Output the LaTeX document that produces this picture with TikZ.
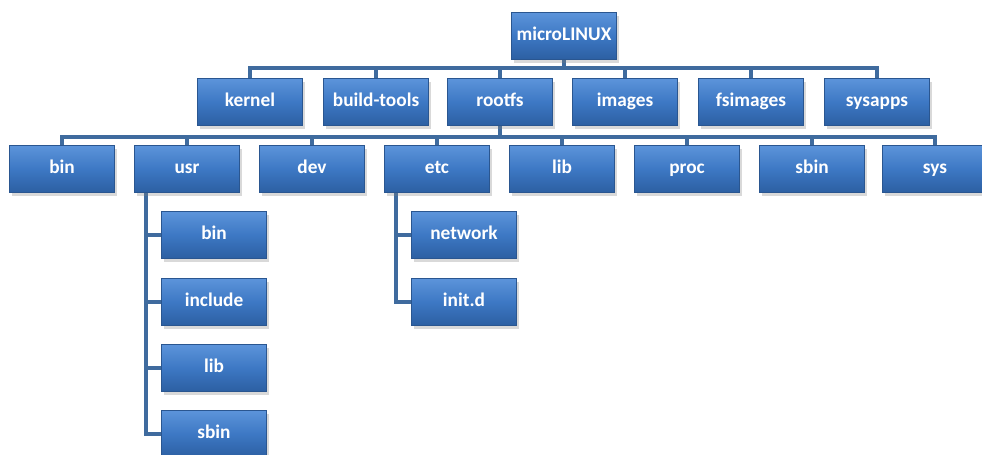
\documentclass[tikz,border=0pt]{standalone}
\usepackage{fontspec}
\setmainfont{Carlito}
\usetikzlibrary{positioning,shadows,backgrounds}
\definecolor{dirtop}{HTML}{5C94DA}
\definecolor{dirmid}{HTML}{3D78C4}
\definecolor{dirbot}{HTML}{2C5FA2}
\definecolor{diredge}{HTML}{2A5690}
\definecolor{dirline}{HTML}{3F6B9E}
\tikzset{
  dir/.style  ={rectangle, draw=diredge, thin, top color=dirtop, bottom color=dirbot,
                middle color=dirmid, text=white, align=center,
                font=\fontsize{11}{13}\selectfont\bfseries,
                text height=0.72em, text depth=0.2em,
                minimum width=2.1cm, minimum height=0.94cm, inner sep=2pt,
                drop shadow={opacity=0.3, shadow xshift=1.5pt, shadow yshift=-1.8pt}},
  conn/.style ={draw=dirline, line width=2.2pt}
}
\begin{document}
\begin{tikzpicture}[x=0.02cm,y=-0.02cm]
  \useasboundingbox (0,0) rectangle (982,455);
  % --- level 0
  \node[dir] (root)   at (564,36)  {microLINUX};
  % --- level 1
  \node[dir] (kernel) at (250,102) {kernel};
  \node[dir] (btools) at (376,102) {build-tools};
  \node[dir] (rootfs) at (500,102) {rootfs};
  \node[dir] (images) at (625,102) {images};
  \node[dir] (fsimg)  at (751,102) {fsimages};
  \node[dir] (sysapp) at (877,102) {sysapps};
  % --- level 2 : rootfs
  \node[dir] (bin)    at (62,169)  {bin};
  \node[dir] (usr)    at (187,169) {usr};
  \node[dir] (dev)    at (312,169) {dev};
  \node[dir] (etc)    at (437,169) {etc};
  \node[dir] (lib)    at (562,169) {lib};
  \node[dir] (proc)   at (687,169) {proc};
  \node[dir] (sbin)   at (812,169) {sbin};
  \node[dir] (sys)    at (935,169) {sys};
  % --- level 3 : usr
  \node[dir] (ubin)   at (214,235) {bin};
  \node[dir] (uinc)   at (214,302) {include};
  \node[dir] (ulib)   at (214,368) {lib};
  \node[dir] (usbin)  at (214,434) {sbin};
  % --- level 3 : etc
  \node[dir] (enet)   at (464,235) {network};
  \node[dir] (einit)  at (464,302) {init.d};

  % --- connectors behind the boxes
  \begin{scope}[on background layer]
  \foreach \n in {kernel,btools,rootfs,images,fsimg,sysapp}
    \draw[conn] (root.south) -- ++(0,8) -| (\n.north);
  \foreach \n in {bin,usr,dev,etc,lib,proc,sbin,sys}
    \draw[conn] (rootfs.south) -- ++(0,11) -| (\n.north);
  \foreach \n in {ubin,uinc,ulib,usbin}
    \draw[conn] ([xshift=0.24cm]usr.south west) |- (\n.west);
  \foreach \n in {enet,einit}
    \draw[conn] ([xshift=0.24cm]etc.south west) |- (\n.west);
  \end{scope}
\end{tikzpicture}
\end{document}
